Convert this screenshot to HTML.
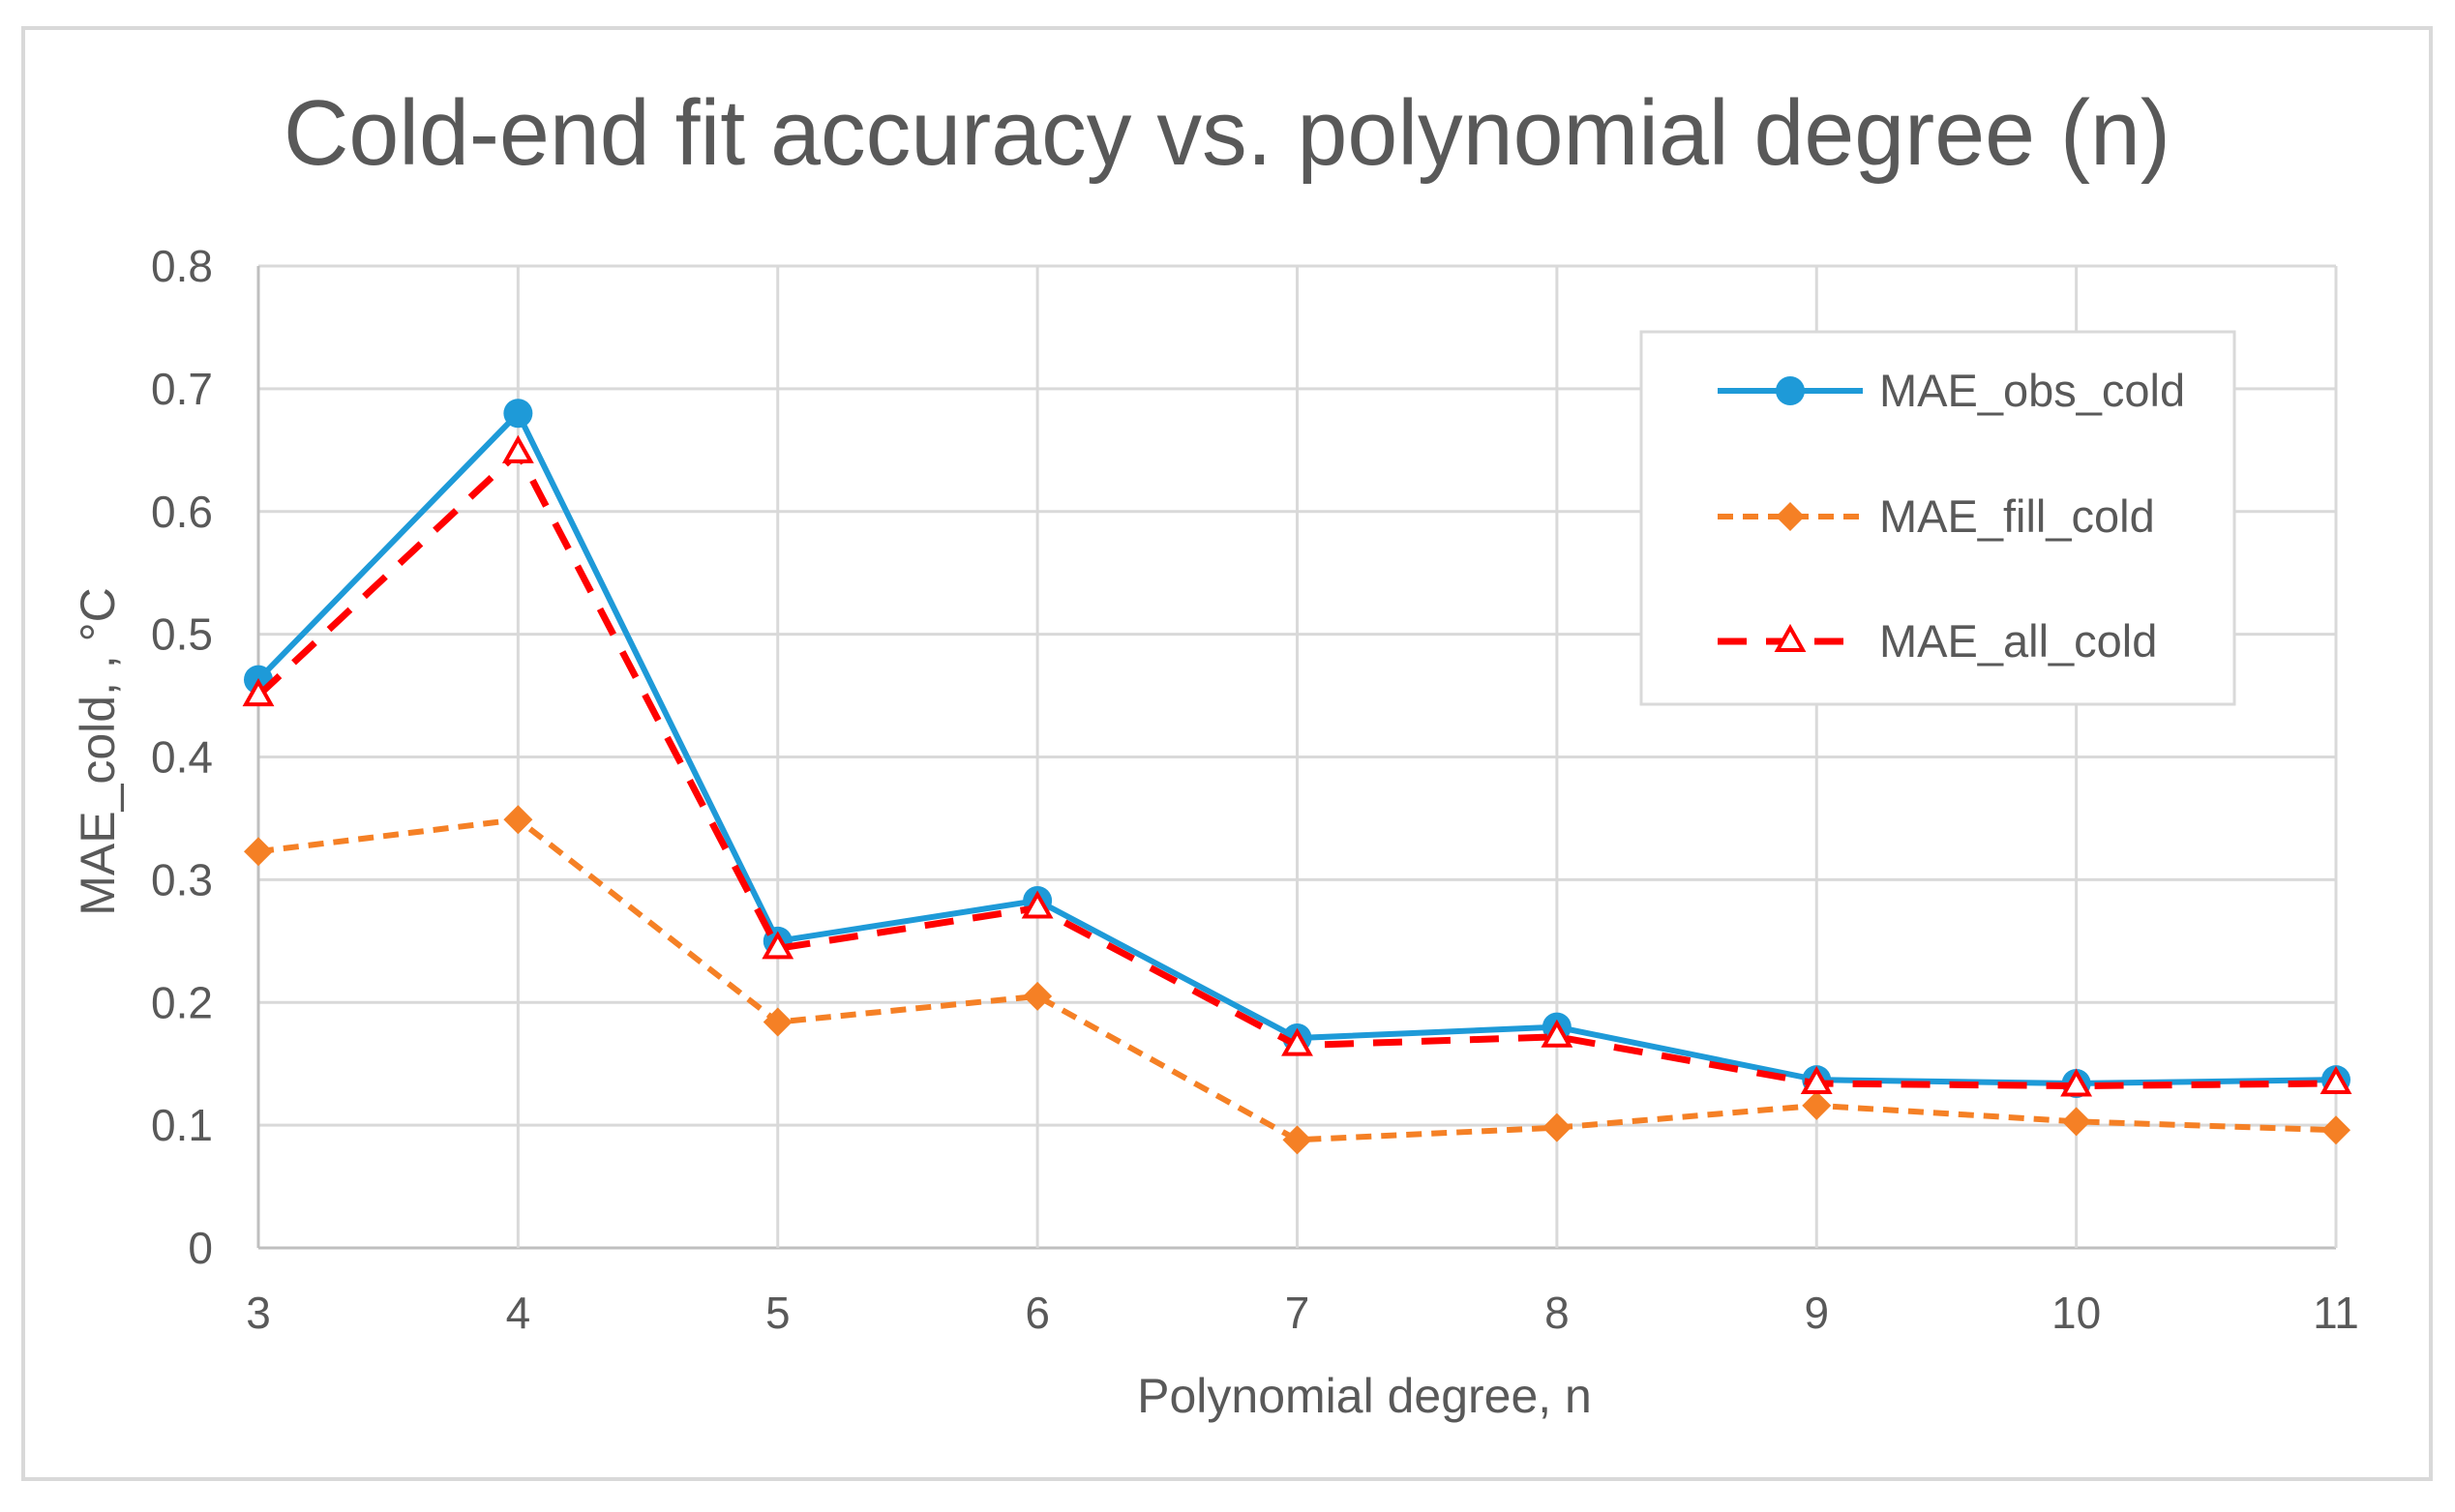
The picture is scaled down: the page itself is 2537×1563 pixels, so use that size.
<!DOCTYPE html>
<html><head><meta charset="utf-8"><style>
html,body{margin:0;padding:0;background:#fff}
svg{display:block}
text{font-family:"Liberation Sans",sans-serif;fill:#595959}
</style></head><body>
<svg id="chart" width="2537" height="1563" viewBox="0 0 2537 1563" xmlns="http://www.w3.org/2000/svg">
<rect x="24" y="29" width="2488" height="1500" fill="#fff" stroke="#d9d9d9" stroke-width="4"/>
<text x="1268" y="170" font-size="96" text-anchor="middle" textLength="1950" lengthAdjust="spacingAndGlyphs">Cold-end fit accuracy vs. polynomial degree (n)</text>
<g id="grid"></g>
<g id="yticks"></g>
<g id="xticks"></g>
<g id="series"></g>
<text transform="translate(118,777) rotate(-90)" font-size="50" text-anchor="middle">MAE_cold, , °C</text>
<text x="1410" y="1460" font-size="50" text-anchor="middle">Polynomial degree, n</text>
<g>
<rect x="1696" y="343" width="613" height="385" fill="#fff" stroke="#d9d9d9" stroke-width="3"/>
<line x1="1775" y1="404" x2="1925" y2="404" stroke="#1E9AD8" stroke-width="6"/>
<circle cx="1850" cy="404" r="15" fill="#1E9AD8"/>
<text x="1942" y="420" font-size="47">MAE_obs_cold</text>
<line x1="1775" y1="534" x2="1925" y2="534" stroke="#F58025" stroke-width="6" stroke-dasharray="16,10"/>
<path d="M1850,519 L1865,534 L1850,549 L1835,534 Z" fill="#F58025"/>
<text x="1942" y="550" font-size="47">MAE_fill_cold</text>
<line x1="1775" y1="663" x2="1925" y2="663" stroke="#FF0000" stroke-width="7" stroke-dasharray="30,20"/>
<path d="M1850,649 L1863,672 L1837,672 Z" fill="#fff" stroke="#FF0000" stroke-width="4"/>
<text x="1942" y="679" font-size="47">MAE_all_cold</text>
</g>
</svg>
<script>
const categories = [3,4,5,6,7,8,9,10,11];
const yTicks = [0,0.1,0.2,0.3,0.4,0.5,0.6,0.7,0.8];
const obsValues = [0.463,0.68,0.25,0.283,0.171,0.18,0.137,0.134,0.137];
const fillValues = [0.323,0.349,0.184,0.205,0.088,0.098,0.116,0.103,0.096];
const allValues = [0.45,0.648,0.244,0.277,0.165,0.172,0.134,0.132,0.134];

const NS='http://www.w3.org/2000/svg';
const L=267,R=2414,T=275,B=1290,YMAX=0.8;
function xPos(i){return L+(R-L)*i/(categories.length-1);}
function yPos(v){return B-(B-T)*v/YMAX;}
function mk(tag,attrs,parent){const e=document.createElementNS(NS,tag);for(const k in attrs)e.setAttribute(k,attrs[k]);parent.appendChild(e);return e;}
const grid=document.getElementById('grid'),yt=document.getElementById('yticks'),xt=document.getElementById('xticks'),ser=document.getElementById('series');
yTicks.forEach(v=>{
  const l=mk('line',{x1:L,x2:R,y1:yPos(v),y2:yPos(v),stroke:v===0?'#bfbfbf':'#d9d9d9','stroke-width':3},grid);
  
  
  const t=mk('text',{x:220,y:yPos(v)+16,'font-size':46,'text-anchor':'end'},yt);
  t.textContent=String(v);
  
  
});
categories.forEach((c,i)=>{
  const l=mk('line',{x1:xPos(i),x2:xPos(i),y1:T,y2:B,stroke:i===0?'#bfbfbf':'#d9d9d9','stroke-width':3},grid);
  
  
  const t=mk('text',{x:xPos(i),y:1373,'font-size':46,'text-anchor':'middle'},xt);
  t.textContent=String(c);
  
  
});
function pts(vals){return vals.map((v,i)=>xPos(i)+','+yPos(v)).join(' ');}
let p=mk('polyline',{points:pts(fillValues),fill:'none',stroke:'#F58025','stroke-width':6,'stroke-dasharray':'16,10'},ser);


fillValues.forEach((v,i)=>{const x=xPos(i),y=yPos(v);
  const m=mk('path',{d:`M${x},${y-15} L${x+15},${y} L${x},${y+15} L${x-15},${y} Z`,fill:'#F58025'},ser);
  
  });
p=mk('polyline',{points:pts(obsValues),fill:'none',stroke:'#1E9AD8','stroke-width':6},ser);


obsValues.forEach((v,i)=>{
  const m=mk('circle',{cx:xPos(i),cy:yPos(v),r:15,fill:'#1E9AD8'},ser);
  
  });
p=mk('polyline',{points:pts(allValues),fill:'none',stroke:'#FF0000','stroke-width':7,'stroke-dasharray':'30,20'},ser);


allValues.forEach((v,i)=>{const x=xPos(i),y=yPos(v);
  const m=mk('path',{d:`M${x},${y-14} L${x+13},${y+9} L${x-13},${y+9} Z`,fill:'#fff',stroke:'#FF0000','stroke-width':4},ser);
  
  });
</script>
</body></html>
